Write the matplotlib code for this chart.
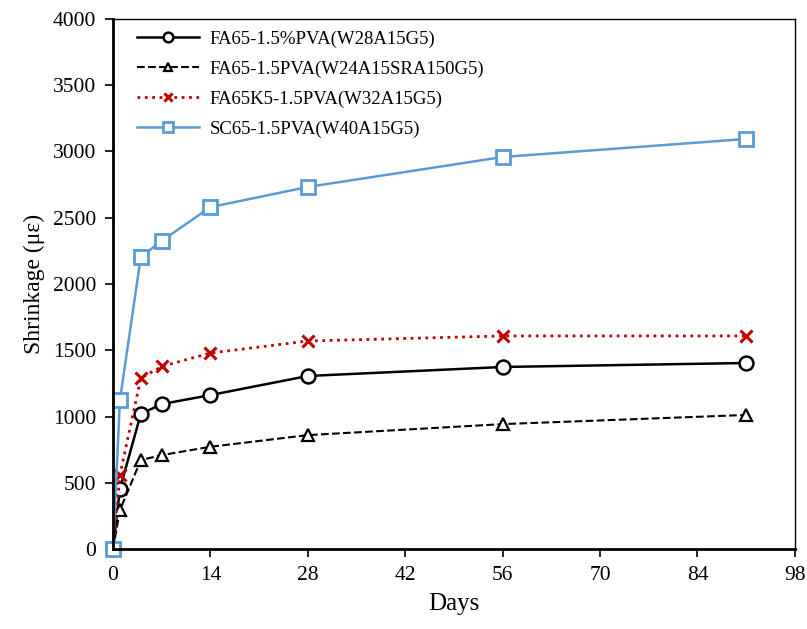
import numpy as np
import matplotlib
matplotlib.use("Agg")
import matplotlib.pyplot as plt

plt.rcParams['font.family'] = ['Liberation Serif', 'DejaVu Serif']

# shrinkage data (microstrain) vs age in days
days = [0, 1, 4, 7, 14, 28, 56, 91]
fa65 = [0, 455, 1020, 1094, 1162, 1306, 1374, 1404]
fa65_sra = [0, 294, 672, 709, 772, 860, 943, 1012]
fa65k5 = [0, 560, 1290, 1378, 1479, 1570, 1608, 1608]
sc65 = [0, 1125, 2204, 2325, 2580, 2732, 2958, 3094]

labels = ["FA65-1.5%PVA(W28A15G5)",
          "FA65-1.5PVA(W24A15SRA150G5)",
          "FA65K5-1.5PVA(W32A15G5)",
          "SC65-1.5PVA(W40A15G5)"]

fig = plt.figure(figsize=(8.07, 6.29), dpi=100)
ax = fig.add_axes([0.140, 0.127, 0.845, 0.843])

ax.plot(days, fa65, '-', color='black', lw=1.8, marker='o', ms=10,
        mfc='white', mew=1.8, label=labels[0], clip_on=False)
ax.plot(days, fa65_sra, '--', color='black', lw=1.5, marker='^', ms=9,
        mfc='white', mew=1.6, label=labels[1], clip_on=False)
ax.plot(days, fa65k5, ':', color='#C00000', lw=2.0, marker='x', ms=9,
        mew=2.2, label=labels[2], clip_on=False)
ax.plot(days, sc65, '-', color='#5B9BD5', lw=1.8, marker='s', ms=10,
        mfc='white', mew=2.0, label=labels[3], clip_on=False)

ax.set_xlim(0, 98)
ax.set_ylim(0, 4000)
ax.set_xticks(np.arange(0, 99, 14))
ax.set_yticks(np.arange(0, 4001, 500))
ax.tick_params(labelsize=15.5, direction='out', length=6, width=1.2, pad=6)

for s in ['left', 'bottom']:
    ax.spines[s].set_linewidth(2.0)
for s in ['top', 'right']:
    ax.spines[s].set_linewidth(1.0)

ax.set_xlabel("Days", fontsize=18, labelpad=6)
ax.set_ylabel("Shrinkage (\u03bc\u03b5)", fontsize=17, labelpad=6)

ax.legend(loc='upper left', frameon=False, fontsize=13.5, handlelength=3.3,
          bbox_to_anchor=(0.01, 1.01), labelspacing=0.68, markerscale=0.7,
          handletextpad=0.6)

fig.savefig("out.png", dpi=100)
